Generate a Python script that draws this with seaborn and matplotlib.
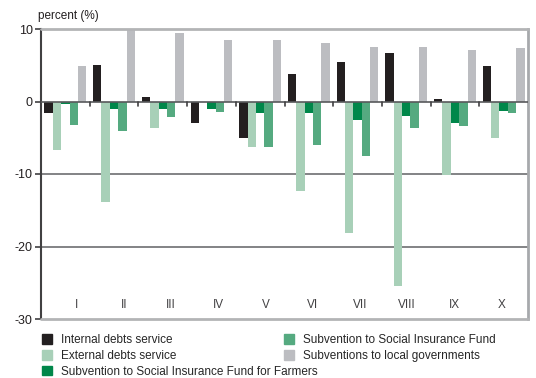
import matplotlib
matplotlib.use("Agg")
import matplotlib.pyplot as plt
import seaborn as sns
import pandas as pd

months = ["I", "II", "III", "IV", "V", "VI", "VII", "VIII", "IX", "X"]
internal_debts = [-1.6, 5.1, 0.65, -2.9, -5.1, 3.8, 5.5, 6.7, 0.4, 4.9]
external_debts = [-6.7, -13.9, -3.6, 0.0, -6.3, -12.3, -18.2, -25.5, -10.2, -5.1]
sif_farmers = [-0.3, -1.05, -1.05, -1.05, -1.65, -1.65, -2.5, -1.95, -2.9, -1.25]
sif = [-3.2, -4.0, -2.1, -1.5, -6.3, -6.0, -7.45, -3.7, -3.35, -1.65]
local_gov = [4.9, 9.9, 9.4, 8.5, 8.5, 8.1, 7.55, 7.55, 7.15, 7.4]

series_names = [
    "Internal debts service",
    "External debts service",
    "Subvention to Social Insurance Fund for Farmers",
    "Subvention to Social Insurance Fund",
    "Subventions to local governments",
]
series_values = [internal_debts, external_debts, sif_farmers, sif, local_gov]
colors = ["#231f20", "#a8d0b8", "#00874a", "#55aa80", "#bcbdc1"]

rows = []
for name, vals in zip(series_names, series_values):
    for m, v in zip(months, vals):
        rows.append({"month": m, "value": v, "series": name})
df = pd.DataFrame(rows)

sns.set_style("white")
plt.rcParams["font.family"] = ["Liberation Sans", "DejaVu Sans"]
plt.rcParams["axes.unicode_minus"] = False

fig = plt.figure(figsize=(5.36, 3.78), dpi=100)
W, H = 536, 378
ax = fig.add_axes([41 / W, 1 - 319 / H, (528 - 41) / W, (319 - 29) / H])

sns.barplot(data=df, x="month", y="value", hue="series", order=months,
            hue_order=series_names, palette=colors, width=0.86, gap=0,
            saturation=1, linewidth=0, ax=ax, legend=False)

ax.set_xlim(-0.5, 9.5)
ax.set_ylim(-30, 10)
ax.set_xlabel("")
ax.set_ylabel("")

# gridlines and frame
for y in (-20, -10):
    ax.axhline(y, color="#6d6e71", lw=1.2, zorder=0)
ax.axhline(0, color="#58595b", lw=1.2, zorder=3)
ax.axhline(-30, color="#b3b4b6", lw=2.0, zorder=3, clip_on=False)
ax.axhline(10, color="#b3b4b6", lw=2.0, zorder=3, clip_on=False)
ax.spines["top"].set_visible(False)
ax.spines["bottom"].set_visible(False)
ax.spines["right"].set_color("#a7a9ac")
ax.spines["right"].set_linewidth(2.0)
ax.spines["left"].set_color("#414042")
ax.spines["left"].set_linewidth(1.5)

ax.set_yticks([-30, -20, -10, 0, 10])
ax.tick_params(axis="y", direction="out", length=4, width=1.2, color="#414042",
               labelsize=9, labelcolor="#231f20", pad=2, left=True)

# category separators on the zero line
ax.set_xticks([])
for b in range(1, 10):
    ax.plot([b - 0.5, b - 0.5], [0, -0.65], color="#414042", lw=1.2, zorder=4)

# month labels inside the plot area
for i, m in enumerate(months):
    ax.text(0.236 + 0.969 * i, -28.1, m, ha="center", va="center",
            fontsize=8.5, color="#414042")

fig.text(38 / W, 1 - 16 / H, "percent (%)", ha="left", va="center",
         fontsize=8.5, color="#231f20")

handles = [plt.Rectangle((0, 0), 1, 1, color=c) for c in colors]
legend_kw = dict(loc="upper left", frameon=False, fontsize=8.5,
                 handlelength=0.85, handleheight=0.85, handletextpad=0.75,
                 labelspacing=0.33, borderaxespad=0, borderpad=0)
leg1 = fig.legend(handles[:3], series_names[:3],
                  bbox_to_anchor=(42 / W, 1 - 334 / H), **legend_kw)
leg2 = fig.legend(handles[3:], series_names[3:],
                  bbox_to_anchor=(284 / W, 1 - 334 / H), **legend_kw)

fig.savefig("out.png", dpi=100)
